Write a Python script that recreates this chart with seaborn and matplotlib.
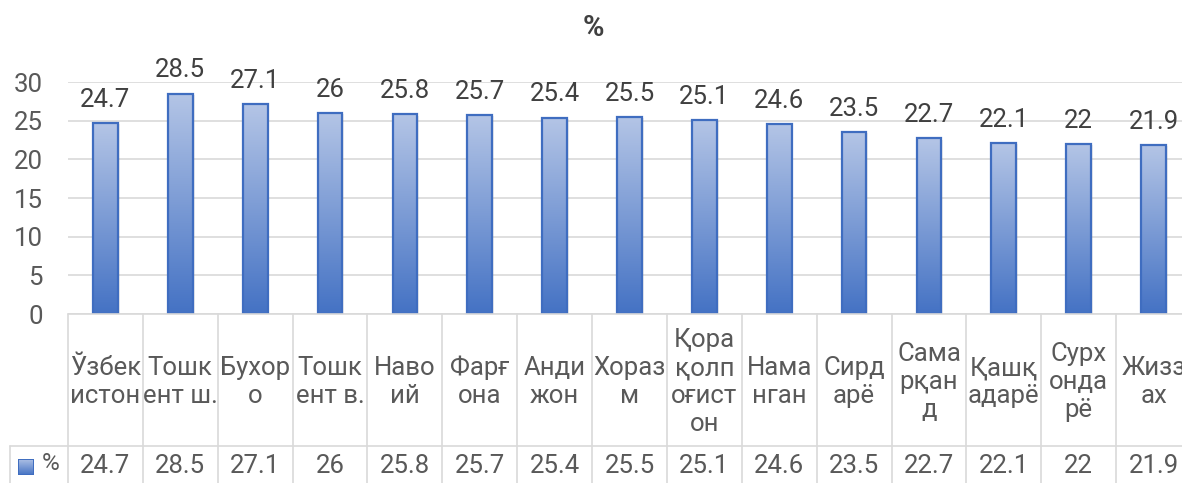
import numpy as np
import pandas as pd
import matplotlib
matplotlib.use("Agg")
import matplotlib.pyplot as plt
import matplotlib.transforms as mtransforms
from matplotlib.colors import LinearSegmentedColormap
from matplotlib.lines import Line2D
from matplotlib.patches import Rectangle
import seaborn as sns

# ── Data ───────────────────────────────────────────────────────
CATEGORIES = [
    "Ўзбек\nистон", "Тошк\nент ш.", "Бухор\nо", "Тошк\nент в.", "Наво\nий",
    "Фарғ\nона", "Анди\nжон", "Хораз\nм", "Қора\nқолп\nоғист\nон", "Нама\nнган",
    "Сирд\nарё", "Сама\nрқан\nд", "Қашқ\nадарё", "Сурх\nонда\nрё", "Жизз\nах",
]
VALUES = [24.7, 28.5, 27.1, 26, 25.8, 25.7, 25.4, 25.5, 25.1, 24.6, 23.5, 22.7, 22.1, 22, 21.9]
SERIES = "%"
YTICKS = [0, 5, 10, 15, 20, 25, 30]

# ── Style ──────────────────────────────────────────────────────
sns.set_theme(style="white")
plt.rcParams["font.family"] = ["Roboto", "DejaVu Sans"]

W, H = 1182, 483
BLUE = "#4472C4"
LIGHT = "#B4C5E6"
GRID = "#D9D9D9"
TXT = "#595959"
LBL = "#404040"

fig = plt.figure(figsize=(W / 100, H / 100), dpi=100)
ax = fig.add_axes([68 / W, 1 - 314 / H, 1123 / W, 232 / H])

df = pd.DataFrame({"region": CATEGORIES, "value": VALUES})
sns.barplot(data=df, x="region", y="value", ax=ax, width=0.33, color=BLUE, zorder=3)

# gradient fill inside every bar (light top -> dark bottom)
cmap = LinearSegmentedColormap.from_list("bar", [BLUE, LIGHT])
grad = np.linspace(0, 1, 256).reshape(-1, 1)
for p in ax.patches:
    x0, w, h = p.get_x(), p.get_width(), p.get_height()
    # faint shadow
    ax.add_patch(Rectangle((x0 + 0.015, 0), w + 0.01, h - 0.15, color="#8a8a8a",
                           alpha=0.15, lw=0, zorder=2))
    im = ax.imshow(grad, extent=[x0, x0 + w, 0, h], origin="lower", aspect="auto",
                   cmap=cmap, zorder=3)
    im.set_clip_path(p)
    p.set_facecolor("none")
    p.set_edgecolor("#3F6DC0")
    p.set_linewidth(1.6)
    p.set_zorder(4)
    ax.annotate(f"{h:g}", (x0 + w / 2, h), xytext=(0, 8), textcoords="offset points",
                ha="center", va="bottom", fontsize=18.5, color=LBL, zorder=5)

ax.set_xlim(-0.5, len(CATEGORIES) - 0.5)
ax.set_ylim(0, 30)
ax.set_yticks(YTICKS)
ax.tick_params(axis="y", length=0, pad=18, labelsize=18.5, labelcolor=TXT)
ax.set_xticks([])
ax.set_xlabel("")
ax.set_ylabel("")
ax.yaxis.grid(True, color=GRID, lw=1.2)
ax.set_axisbelow(True)
for s in ax.spines.values():
    s.set_visible(False)

# ── Data table ─────────────────────────────────────────────────
def fy(py):
    return 1 - py / H

trans = mtransforms.blended_transform_factory(ax.transData, fig.transFigure)
n = len(CATEGORIES)
lkw = dict(color=GRID, lw=1.2, clip_on=False)

fig.add_artist(Line2D([68 / W, 1], [fy(314), fy(314)], transform=fig.transFigure, **lkw))
fig.add_artist(Line2D([10 / W, 1], [fy(446), fy(446)], transform=fig.transFigure, **lkw))
fig.add_artist(Line2D([10 / W, 10 / W], [fy(446), 0], transform=fig.transFigure, **lkw))
for b in np.arange(n + 1) - 0.5:
    ax.add_artist(Line2D([b, b], [fy(314), 0], transform=trans, **lkw))

for i, (cat, val) in enumerate(zip(CATEGORIES, VALUES)):
    ax.text(i, fy(382), cat, transform=trans, ha="center", va="center",
            fontsize=18.5, color=TXT, linespacing=1.2, clip_on=False)
    ax.text(i, fy(466), f"{val:g}", transform=trans, ha="center", va="center",
            fontsize=18.5, color=TXT, clip_on=False)

# legend key in the table
key_ax = fig.add_axes([18 / W, fy(475), 16 / W, 16 / H])
key_ax.imshow(grad, origin="lower", aspect="auto", cmap=cmap, extent=[0, 1, 0, 1])
key_ax.add_patch(Rectangle((0, 0), 1, 1, fill=False, edgecolor="#3F6DC0", lw=1.4))
key_ax.set_xlim(0, 1)
key_ax.set_ylim(0, 1)
key_ax.axis("off")
fig.text(42 / W, fy(464), SERIES, ha="left", va="center", fontsize=17.5, color=TXT)

fig.text(0.502, fy(28), SERIES, ha="center", va="center", fontsize=21,
         fontweight="bold", color=LBL)

fig.savefig("out.png", dpi=100)
